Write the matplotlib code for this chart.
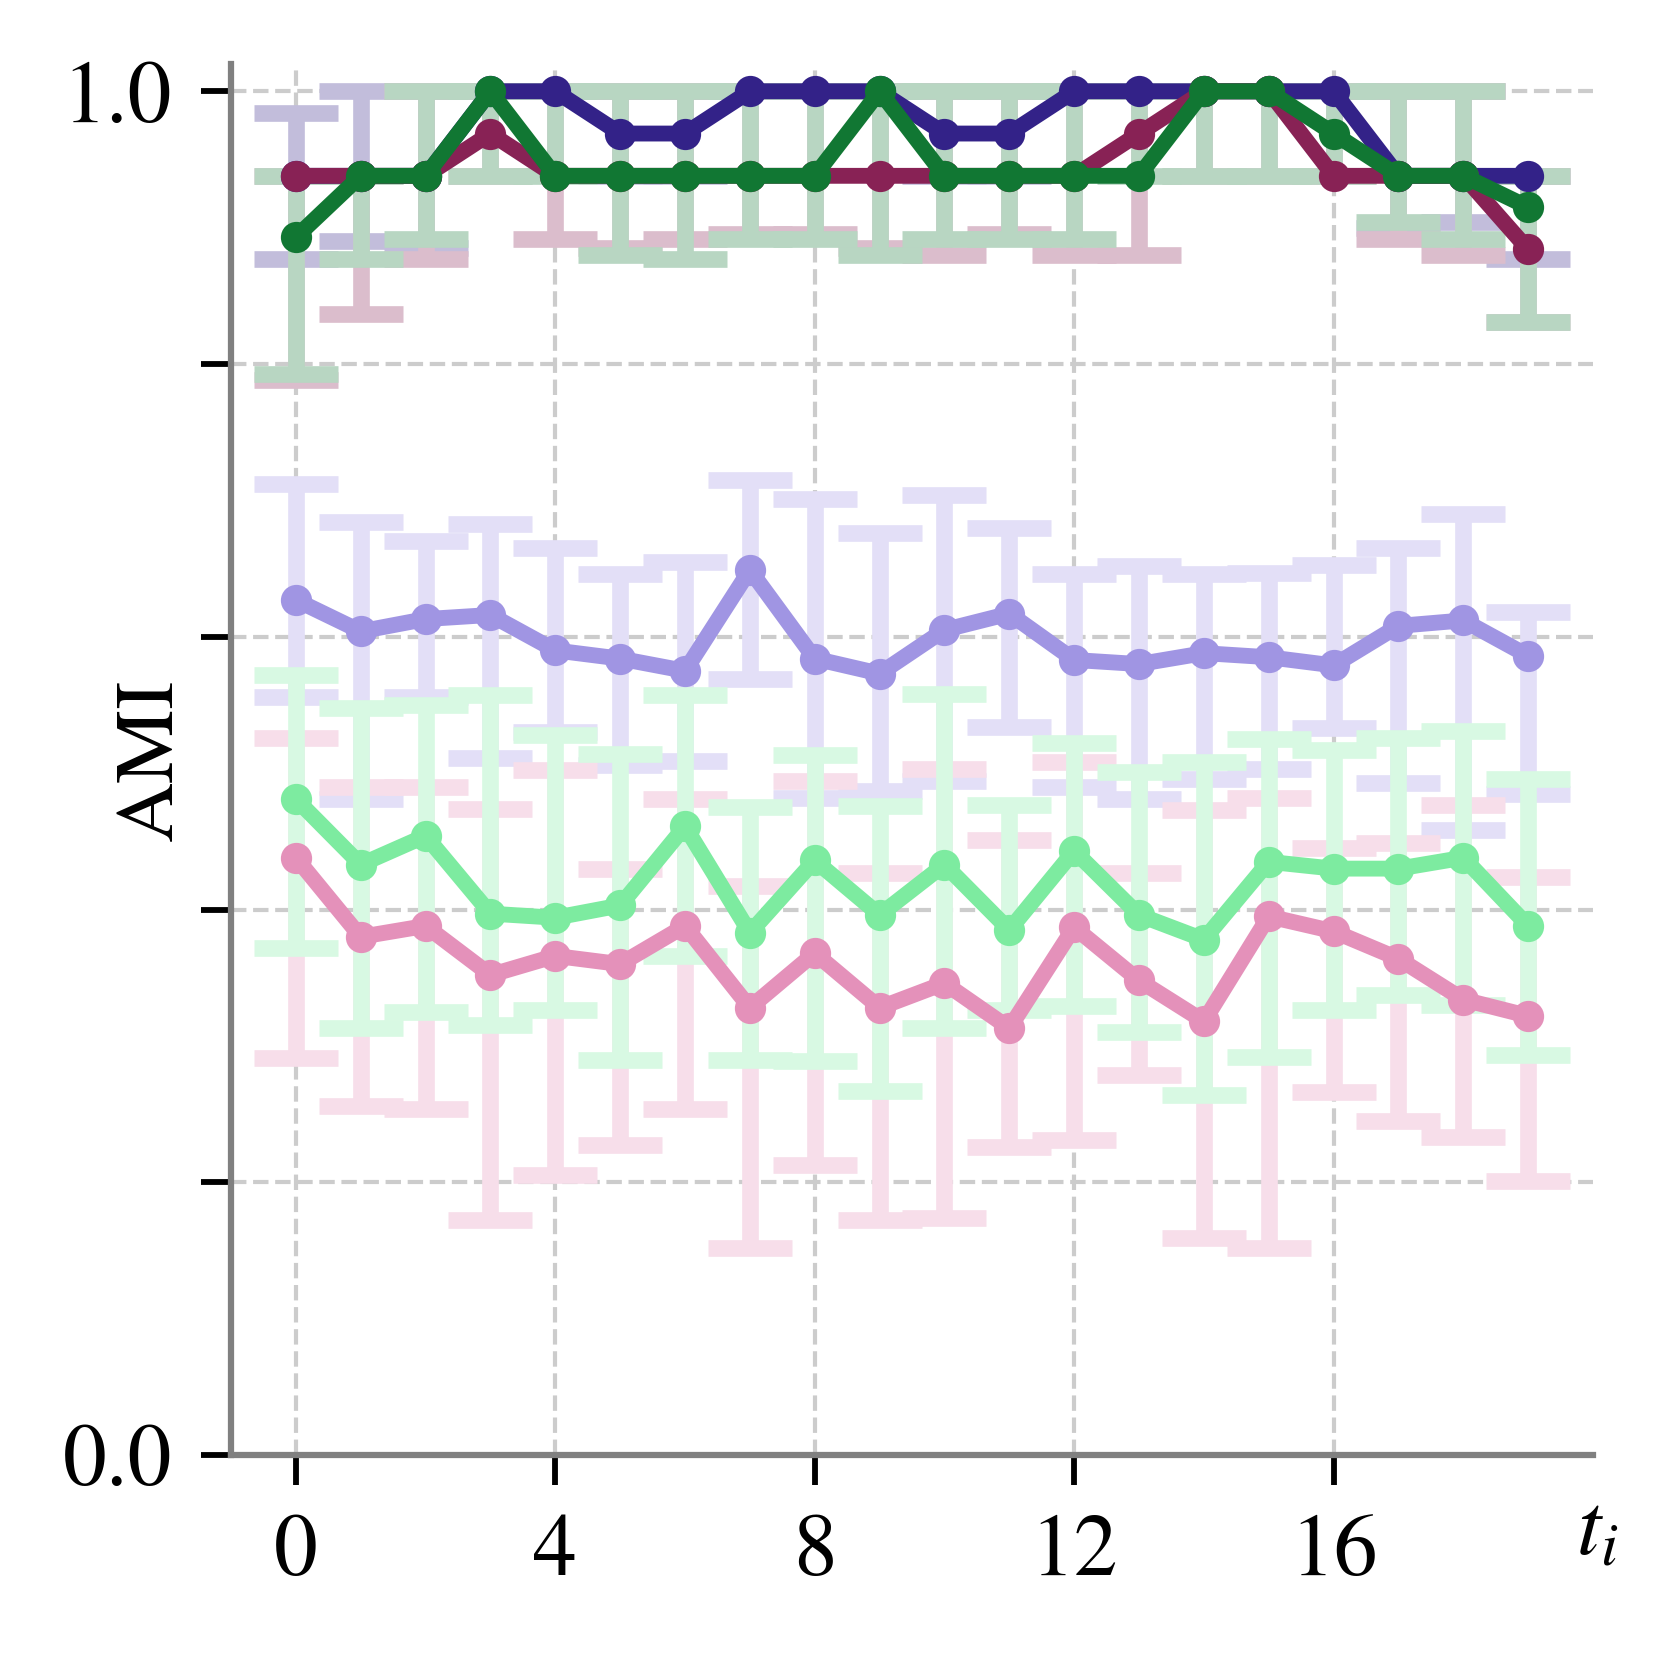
import matplotlib
matplotlib.use("Agg")
import matplotlib.colors as mcolors
import matplotlib.pyplot as plt
import numpy as np

plt.rcParams["font.family"] = ["STIXGeneral", "Liberation Serif", "DejaVu Serif"]
plt.rcParams["mathtext.fontset"] = "stix"

T = np.arange(20)

# upper group (dark colours)
NAVY_MEAN = [0.938, 0.938, 0.938, 1.0, 1.0, 0.969, 0.969, 1.0, 1.0, 1.0,
             0.969, 0.969, 1.0, 1.0, 1.0, 1.0, 1.0, 0.938, 0.938, 0.938]
NAVY_LO = [0.877, 0.890, 0.885, 1.0, 1.0, 0.938, 0.938, 1.0, 1.0, 1.0,
           0.938, 0.938, 1.0, 1.0, 1.0, 1.0, 1.0, 0.900, 0.904, 0.877]
NAVY_HI = [0.984, 1.0, 1.0, 1.0, 1.0, 1.0, 1.0, 1.0, 1.0, 1.0,
           1.0, 1.0, 1.0, 1.0, 1.0, 1.0, 1.0, 1.0, 1.0, 0.938]

WINE_MEAN = [0.938, 0.938, 0.938, 0.969, 0.938, 0.938, 0.938, 0.938, 0.938, 0.938,
             0.938, 0.938, 0.938, 0.969, 1.0, 1.0, 0.938, 0.938, 0.938, 0.884]
WINE_LO = [0.788, 0.837, 0.877, 0.938, 0.892, 0.885, 0.892, 0.895, 0.895, 0.885,
           0.880, 0.895, 0.880, 0.880, 0.938, 0.938, 0.938, 0.892, 0.880, 0.831]
WINE_HI = [0.938, 0.938, 1.0, 1.0, 1.0, 1.0, 1.0, 1.0, 1.0, 1.0,
           1.0, 1.0, 1.0, 1.0, 1.0, 1.0, 1.0, 1.0, 1.0, 0.938]

GREEN_MEAN = [0.893, 0.938, 0.938, 1.0, 0.938, 0.938, 0.938, 0.938, 0.938, 1.0,
              0.938, 0.938, 0.938, 0.938, 1.0, 1.0, 0.969, 0.938, 0.938, 0.915]
GREEN_LO = [0.793, 0.877, 0.892, 0.938, 0.938, 0.880, 0.877, 0.892, 0.892, 0.880,
            0.892, 0.892, 0.892, 0.938, 0.938, 0.938, 0.938, 0.904, 0.892, 0.831]
GREEN_HI = [0.938, 0.938, 1.0, 1.0, 1.0, 1.0, 1.0, 1.0, 1.0, 1.0,
            1.0, 1.0, 1.0, 1.0, 1.0, 1.0, 1.0, 1.0, 1.0, 0.938]

# lower group (light colours)
LILAC_MEAN = [0.627, 0.604, 0.613, 0.616, 0.590, 0.584, 0.575, 0.649, 0.584, 0.573,
              0.605, 0.617, 0.583, 0.580, 0.588, 0.585, 0.579, 0.608, 0.612, 0.586]
LILAC_LO = [0.556, 0.481, 0.556, 0.511, 0.530, 0.506, 0.509, 0.569, 0.482, 0.487,
            0.494, 0.534, 0.490, 0.481, 0.496, 0.503, 0.533, 0.493, 0.458, 0.485]
LILAC_HI = [0.712, 0.684, 0.670, 0.683, 0.665, 0.646, 0.655, 0.715, 0.701, 0.676,
            0.704, 0.680, 0.646, 0.652, 0.646, 0.647, 0.653, 0.665, 0.690, 0.618]

PINK_MEAN = [0.438, 0.380, 0.388, 0.352, 0.366, 0.360, 0.388, 0.328, 0.368, 0.328,
             0.346, 0.313, 0.387, 0.348, 0.318, 0.395, 0.384, 0.364, 0.334, 0.322]
PINK_LO = [0.291, 0.256, 0.254, 0.172, 0.205, 0.227, 0.254, 0.152, 0.213, 0.172,
           0.174, 0.226, 0.231, 0.279, 0.159, 0.152, 0.266, 0.245, 0.233, 0.201]
PINK_HI = [0.526, 0.490, 0.490, 0.474, 0.502, 0.430, 0.481, 0.417, 0.494, 0.427,
           0.503, 0.451, 0.508, 0.427, 0.473, 0.482, 0.445, 0.449, 0.477, 0.424]

MINT_MEAN = [0.481, 0.433, 0.454, 0.397, 0.394, 0.403, 0.461, 0.383, 0.436, 0.396,
             0.433, 0.385, 0.443, 0.396, 0.378, 0.435, 0.430, 0.430, 0.438, 0.388]
MINT_LO = [0.372, 0.313, 0.325, 0.315, 0.326, 0.290, 0.366, 0.290, 0.289, 0.267,
           0.313, 0.326, 0.329, 0.310, 0.264, 0.292, 0.326, 0.337, 0.330, 0.293]
MINT_HI = [0.572, 0.548, 0.550, 0.557, 0.528, 0.514, 0.557, 0.475, 0.513, 0.476,
           0.558, 0.477, 0.522, 0.501, 0.508, 0.525, 0.517, 0.526, 0.531, 0.496]

SERIES = [
    (NAVY_MEAN, NAVY_LO, NAVY_HI, "#332288"),
    (WINE_MEAN, WINE_LO, WINE_HI, "#882255"),
    (GREEN_MEAN, GREEN_LO, GREEN_HI, "#117733"),
    (LILAC_MEAN, LILAC_LO, LILAC_HI, "#a095e3"),
    (PINK_MEAN, PINK_LO, PINK_HI, "#e491ba"),
    (MINT_MEAN, MINT_LO, MINT_HI, "#7deba0"),
]


def lighten(color, alpha=0.3):
    """Opaque version of `color` drawn at `alpha` over white."""
    rgb = np.array(mcolors.to_rgb(color))
    return tuple(1 - alpha * (1 - rgb))


fig = plt.figure(figsize=(5.54, 5.5267), dpi=300)
ax = fig.add_axes([0.139, 0.1224, 0.8195, 0.839])

# error bars first, lines on top
for mean, lo, hi, color in SERIES:
    mean, lo, hi = np.asarray(mean), np.asarray(lo), np.asarray(hi)
    ax.errorbar(T, mean, yerr=[mean - lo, hi - mean], fmt="none",
                ecolor=lighten(color), elinewidth=4, capsize=10, capthick=4,
                zorder=2)

for mean, lo, hi, color in SERIES:
    ax.plot(T, mean, "-o", color=color, linewidth=3.8, markersize=6.5,
            zorder=3, clip_on=False)

ax.set_xlim(-1, 20)
ax.set_ylim(0, 1.02)
ax.set_xticks([0, 4, 8, 12, 16])
ax.set_yticks([0.0, 0.2, 0.4, 0.6, 0.8, 1.0])
ax.set_yticklabels(["0.0", "", "", "", "", "1.0"])

ax.grid(True, linestyle="--", color="#cccccc", linewidth=1.0)
ax.set_axisbelow(True)

for side in ("top", "right"):
    ax.spines[side].set_visible(False)
for side in ("left", "bottom"):
    ax.spines[side].set_color("#808080")
    ax.spines[side].set_linewidth(1.5)

ax.tick_params(direction="out", length=7.2, width=1.4, color="black",
               labelsize=21, pad=7)

ax.set_ylabel("AMI", fontsize=20)
ax.yaxis.set_label_coords(-0.030, 0.5)
ax.text(1.003, -0.056, "$t_i$", transform=ax.transAxes, fontsize=21,
        ha="center", va="center")

fig.savefig("out.png", dpi=300)
